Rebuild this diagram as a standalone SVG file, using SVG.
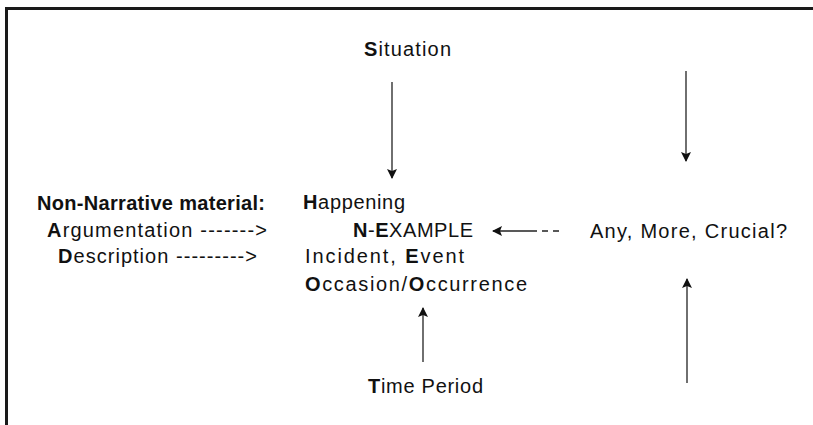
<svg xmlns="http://www.w3.org/2000/svg" width="813" height="425" viewBox="0 0 813 425">
  <style>
    text { font-family: "Liberation Sans", Arial, sans-serif; font-size: 20px; fill: #111; }
    .b { font-weight: bold; }
    .frame { stroke: #1a1a1a; stroke-width: 3; fill: none; }
    .conn { stroke: #222; stroke-width: 1.3; fill: none; }
  </style>
  <defs>
    <marker id="head" viewBox="0 0 10 10" refX="9" refY="5" markerWidth="10" markerHeight="10" markerUnits="userSpaceOnUse" orient="auto">
      <path d="M0,0 L10,5 L0,10 L2,5 Z" fill="#111"/>
    </marker>
  </defs>

  <rect width="813" height="425" fill="#fff"/>
  <!-- open frame: top and left rules -->
  <path class="frame" d="M813,8.5 H6.5 V425"/>

  <g id="situation">
    <text x="364" y="56" textLength="87" lengthAdjust="spacing"><tspan class="b">S</tspan>ituation</text>
  </g>

  <g id="non-narrative">
    <text class="b" x="37" y="210" textLength="228" lengthAdjust="spacing">Non-Narrative material:</text>
    <text x="47" y="237" textLength="220" lengthAdjust="spacing"><tspan class="b">A</tspan>rgumentation -------&gt;</text>
    <text x="58" y="263" textLength="199" lengthAdjust="spacing"><tspan class="b">D</tspan>escription ---------&gt;</text>
  </g>

  <g id="n-example">
    <text x="303" y="209" textLength="102" lengthAdjust="spacing"><tspan class="b">H</tspan>appening</text>
    <text x="353" y="237" textLength="120" lengthAdjust="spacing"><tspan class="b">N</tspan>-<tspan class="b">E</tspan>XAMPLE</text>
    <text x="305" y="263" textLength="159" lengthAdjust="spacing">Incident, <tspan class="b">E</tspan>vent</text>
    <text x="305" y="291" textLength="222" lengthAdjust="spacing"><tspan class="b">O</tspan>ccasion/<tspan class="b">O</tspan>ccurrence</text>
  </g>

  <g id="crucial">
    <text x="590" y="238" textLength="197" lengthAdjust="spacing">Any, More, Crucial?</text>
  </g>

  <g id="time-period">
    <text x="368" y="393" textLength="115" lengthAdjust="spacing"><tspan class="b">T</tspan>ime Period</text>
  </g>

  <g id="connectors">
    <line class="conn" x1="392" y1="82" x2="392" y2="178" marker-end="url(#head)"/>
    <line class="conn" x1="686" y1="71" x2="686" y2="161" marker-end="url(#head)"/>
    <line class="conn" x1="537" y1="231" x2="493" y2="231" marker-end="url(#head)"/>
    <path class="conn" d="M542,231 H548 M553,231 H559"/>
    <line class="conn" x1="423" y1="362" x2="423" y2="308" marker-end="url(#head)"/>
    <line class="conn" x1="687" y1="383" x2="687" y2="279" marker-end="url(#head)"/>
  </g>
</svg>
